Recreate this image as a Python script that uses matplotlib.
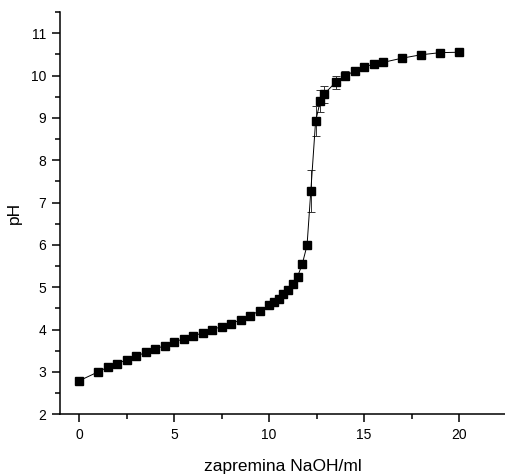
import matplotlib
matplotlib.use("Agg")
import matplotlib.pyplot as plt
from matplotlib.ticker import MultipleLocator

plt.rcParams['font.family'] = ['Liberation Sans', 'DejaVu Sans']

# Titration of acid with NaOH: added volume (ml) and measured pH
volume = [0, 1, 1.5, 2, 2.5, 3, 3.5, 4, 4.5, 5, 5.5, 6, 6.5, 7, 7.5, 8, 8.5,
          9, 9.5, 10, 10.25, 10.5, 10.75, 11, 11.25, 11.5, 11.75, 12, 12.2,
          12.45, 12.7, 12.9, 13.5, 14, 14.5, 15, 15.5, 16, 17, 18, 19, 20]
ph = [2.79, 3.00, 3.11, 3.19, 3.29, 3.37, 3.46, 3.54, 3.62, 3.71, 3.78, 3.85,
      3.92, 4.00, 4.07, 4.14, 4.23, 4.32, 4.45, 4.57, 4.65, 4.73, 4.83, 4.93,
      5.07, 5.25, 5.55, 5.99, 7.28, 8.92, 9.40, 9.56, 9.84, 10.00, 10.10,
      10.20, 10.27, 10.31, 10.41, 10.49, 10.54, 10.55]
ph_err = [0.02, 0.02, 0.02, 0.02, 0.02, 0.02, 0.02, 0.02, 0.02, 0.02, 0.02,
          0.02, 0.02, 0.02, 0.02, 0.02, 0.02, 0.02, 0.02, 0.02, 0.02, 0.02,
          0.02, 0.02, 0.03, 0.04, 0.05, 0.06, 0.50, 0.35, 0.25, 0.20, 0.15,
          0.10, 0.05, 0.04, 0.03, 0.03, 0.02, 0.02, 0.02, 0.02]

fig = plt.figure(figsize=(5.06, 4.76), dpi=100)
ax = fig.add_axes([60 / 506, 1 - 414.3 / 476, 1 - 60 / 506, (414.3 - 12) / 476])

ax.errorbar(volume, ph, yerr=ph_err, fmt='-s', color='black', ecolor='#333333',
            elinewidth=0.7, capsize=3, capthick=0.7, lw=0.7,
            ms=6.3, mfc='black', mec='black', zorder=3)

ax.set_xlim(-1, 22.47)
ax.set_ylim(2, 11.5)
ax.xaxis.set_major_locator(MultipleLocator(5))
ax.xaxis.set_minor_locator(MultipleLocator(2.5))
ax.yaxis.set_major_locator(MultipleLocator(1))
ax.yaxis.set_minor_locator(MultipleLocator(0.5))

for side in ('top', 'right'):
    ax.spines[side].set_visible(False)
for side in ('left', 'bottom'):
    ax.spines[side].set_linewidth(1.1)

ax.tick_params(which='major', direction='out', length=6, width=1.1,
               labelsize=10, pad=4)
ax.tick_params(which='minor', direction='out', length=3.5, width=1.1)

ax.set_xlabel('zapremina NaOH/ml', fontsize=12.5, labelpad=12)
ax.set_ylabel('pH', fontsize=12.5, labelpad=6)

fig.savefig('out.png', dpi=100)
